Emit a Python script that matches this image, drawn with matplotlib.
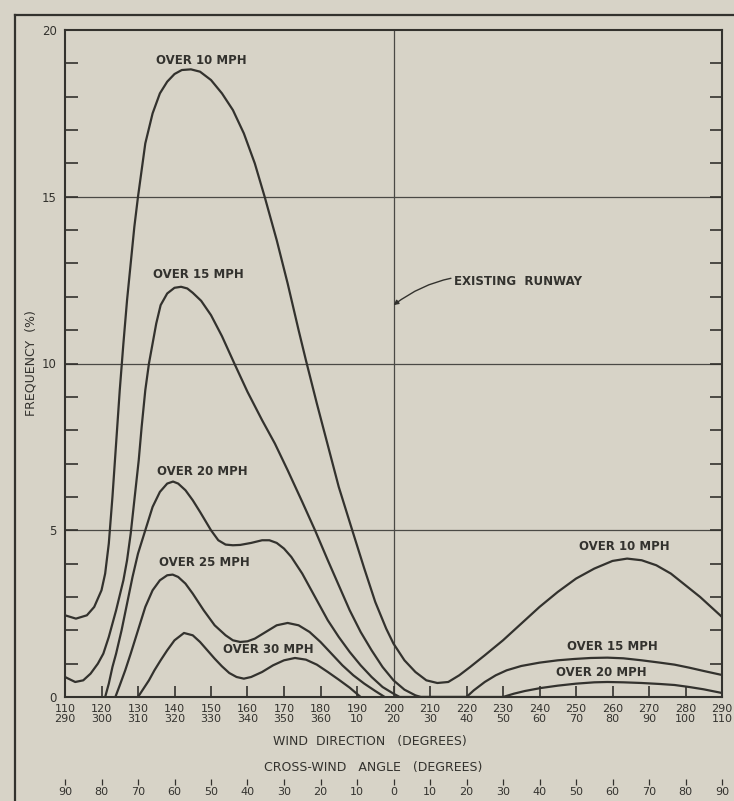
import matplotlib
matplotlib.use("Agg")
import matplotlib.pyplot as plt
from matplotlib.lines import Line2D

# ---------------- data ----------------
wind_dir_ticks = [110, 120, 130, 140, 150, 160, 170, 180, 190, 200,
                  210, 220, 230, 240, 250, 260, 270, 280, 290]
wind_dir_labels = ["110\n290", "120\n300", "130\n310", "140\n320", "150\n330",
                   "160\n340", "170\n350", "180\n360", "190\n10", "200\n20",
                   "210\n30", "220\n40", "230\n50", "240\n60", "250\n70",
                   "260\n80", "270\n90", "280\n100", "290\n110"]
crosswind_labels = ["90", "80", "70", "60", "50", "40", "30", "20", "10", "0",
                    "10", "20", "30", "40", "50", "60", "70", "80", "90"]
y_ticks = [0, 5, 10, 15, 20]
existing_runway = 200

over10_x = [110, 113, 116, 118, 120, 121, 122, 123, 124, 125, 126, 127, 128, 129, 130,
            132, 134, 136, 138, 140, 142, 144.5, 147, 150, 153, 156, 159, 162, 164.7,
            168, 171, 174, 176, 179, 182, 185, 188.7, 192, 195, 198, 200, 203, 206,
            209, 212, 215, 218, 221, 225, 230, 235, 240, 245, 250, 255, 260, 264,
            268, 272, 276, 280, 284, 287, 290]
over10_y = [2.45, 2.35, 2.45, 2.7, 3.2, 3.7, 4.6, 6.0, 7.6, 9.2, 10.6, 11.9, 13.0, 14.1, 15.0,
            16.6, 17.5, 18.1, 18.45, 18.68, 18.8, 18.82, 18.75, 18.5, 18.1, 17.6, 16.9, 16.0, 15.0,
            13.7, 12.4, 11.0, 10.1, 8.8, 7.55, 6.3, 5.0, 3.85, 2.85, 2.05, 1.6, 1.1, 0.75,
            0.5, 0.42, 0.45, 0.65, 0.9, 1.25, 1.7, 2.2, 2.7, 3.15, 3.55, 3.85, 4.08, 4.15,
            4.1, 3.95, 3.7, 3.35, 3.0, 2.7, 2.4]

over15_x = [110, 112.8, 115, 117, 119, 120.5, 122, 124, 126, 127, 128, 129, 130.2, 131,
            132, 133, 134, 135, 136.2, 138, 140, 141.8, 143.5, 145, 147.3, 150, 153,
            156.4, 160, 164, 167.5, 171, 175, 178.5, 182, 185, 188, 191, 194, 197, 200,
            203, 206, 207.5, 220, 222, 225, 228, 231, 235, 240, 245, 249.5, 254, 258.6,
            263, 268, 273, 277, 281, 285, 290]
over15_y = [0.6, 0.45, 0.5, 0.7, 1.0, 1.3, 1.8, 2.6, 3.5, 4.1, 4.9, 5.9, 7.1, 8.1,
            9.2, 10.0, 10.6, 11.2, 11.75, 12.1, 12.27, 12.3, 12.25, 12.12, 11.88, 11.45, 10.82,
            10.0, 9.15, 8.3, 7.6, 6.8, 5.85, 5.0, 4.1, 3.35, 2.6, 1.95, 1.4, 0.9, 0.5,
            0.22, 0.05, 0.0, 0.0, 0.2, 0.45, 0.65, 0.8, 0.93, 1.03, 1.1, 1.14, 1.17, 1.18,
            1.16, 1.1, 1.03, 0.97, 0.88, 0.78, 0.66]

over20_x = [121, 122, 123, 124, 125.5, 127, 128.5, 130, 132, 134, 136, 138, 139.6, 141,
            143, 145, 147, 150, 152, 154, 156, 158, 161, 164, 166, 168, 170, 172, 175,
            178.5, 182, 185, 188, 191, 194, 197, 200, 201.7, 230, 233, 236, 240.4, 245,
            250, 255, 258.6, 263, 268, 273, 277, 281, 285, 290]
over20_y = [0.0, 0.4, 0.9, 1.3, 2.0, 2.8, 3.6, 4.3, 5.0, 5.7, 6.15, 6.4, 6.46, 6.4,
            6.2, 5.9, 5.55, 5.0, 4.7, 4.57, 4.55, 4.56, 4.62, 4.7, 4.7, 4.62, 4.45, 4.2, 3.7,
            3.0, 2.3, 1.8, 1.35, 0.95, 0.6, 0.3, 0.1, 0.0, 0.0, 0.1, 0.18, 0.27, 0.34,
            0.4, 0.44, 0.45, 0.44, 0.42, 0.39, 0.36, 0.3, 0.23, 0.12]

over25_x = [123.8, 125, 126.5, 128, 130, 132, 134, 136, 138, 139.5, 141, 143, 145, 148,
            151, 154, 156, 158, 160, 162, 165, 168, 171, 174, 177, 180, 183, 186, 189,
            192, 195, 197.6]
over25_y = [0.0, 0.35, 0.8, 1.3, 2.0, 2.7, 3.2, 3.5, 3.65, 3.67, 3.6, 3.4, 3.1, 2.6,
            2.15, 1.85, 1.7, 1.65, 1.67, 1.75, 1.95, 2.15, 2.22, 2.15, 1.95, 1.65, 1.3, 0.95, 0.65,
            0.4, 0.18, 0.0]

over30_x = [130, 131.5, 133, 134.5, 136.2, 138, 140, 142.6, 145, 147, 149, 151, 153, 155,
            157, 159, 161, 164, 167, 170, 173, 176, 179, 182, 185, 188, 191]
over30_y = [0.0, 0.25, 0.5, 0.8, 1.1, 1.4, 1.7, 1.92, 1.85, 1.65, 1.4, 1.15, 0.92, 0.72,
            0.6, 0.55, 0.6, 0.75, 0.95, 1.1, 1.17, 1.12, 0.97, 0.75, 0.52, 0.28, 0.0]

curve_labels = ["OVER 10 MPH", "OVER 15 MPH", "OVER 20 MPH", "OVER 25 MPH", "OVER 30 MPH",
                "OVER 10 MPH", "OVER 15 MPH", "OVER 20 MPH"]
curve_label_x = [147.3, 146.5, 147.6, 148.3, 165.8, 263.3, 260.0, 257.0]
curve_label_y = [19.1, 12.67, 6.76, 4.02, 1.41, 4.5, 1.5, 0.72]

# ---------------- styling ----------------
BG = "#d7d3c7"
INK = "#33322e"
W, H = 734, 801

plt.rcParams["font.family"] = ["DejaVu Sans"]
fig = plt.figure(figsize=(W / 100, H / 100), dpi=100, facecolor=BG)
ax = fig.add_axes([65 / W, 1 - 697 / H, (722 - 65) / W, (697 - 30) / H])
ax.set_facecolor(BG)

# outer drawing border (left and top)
fig.add_artist(Line2D([15 / W, 15 / W], [0, 1 - 15 / H], transform=fig.transFigure,
                      color=INK, lw=1.6))
fig.add_artist(Line2D([15 / W, 1], [1 - 15 / H, 1 - 15 / H], transform=fig.transFigure,
                      color=INK, lw=1.6))

ax.set_xlim(110, 290)
ax.set_ylim(0, 20)

# grid lines
for yv in y_ticks[1:-1]:
    ax.axhline(yv, color="#4a4945", lw=0.9, zorder=1)
ax.axvline(existing_runway, color="#4a4945", lw=0.9, zorder=1)

# curves
for xs, ys in [(over10_x, over10_y), (over15_x, over15_y), (over20_x, over20_y),
               (over25_x, over25_y), (over30_x, over30_y)]:
    ax.plot(xs, ys, color=INK, lw=1.6, solid_joinstyle="round", zorder=3)

for t, xl, yl in zip(curve_labels, curve_label_x, curve_label_y):
    ax.text(xl, yl, t, ha="center", va="center", fontsize=8.5, color=INK,
            fontweight="bold", zorder=4)

# existing runway annotation
ax.annotate("EXISTING  RUNWAY", xy=(existing_runway, 11.75), xytext=(216.5, 12.45),
            ha="left", va="center", fontsize=8.5, color=INK, fontweight="bold",
            arrowprops=dict(arrowstyle="-|>", color=INK, lw=1.0, shrinkA=0, shrinkB=0,
                            mutation_scale=7, connectionstyle="arc3,rad=0.25"))

# spines
for s in ax.spines.values():
    s.set_color(INK)
    s.set_linewidth(1.5)

# y ticks
ax.set_yticks(y_ticks)
ax.set_yticklabels([str(v) for v in y_ticks])
ax.set_yticks([v for v in range(1, 20) if v % 5 != 0], minor=True)
ax.tick_params(axis="y", which="both", direction="in", length=9, width=1.2,
               colors=INK, right=True, left=True, labelsize=8.5, pad=6)
ax.set_ylabel("FREQUENCY  (%)", fontsize=9, color=INK, labelpad=3)

# x ticks (wind direction)
ax.set_xticks(wind_dir_ticks)
ax.set_xticklabels(wind_dir_labels, linespacing=1.0)
ax.tick_params(axis="x", which="both", direction="in", length=8, width=1.2,
               colors=INK, labelsize=8, pad=5)
ax.xaxis.set_tick_params(top=False)

fig.text(370 / W, 1 - 741 / H, "WIND  DIRECTION   (DEGREES)", ha="center", va="center",
         fontsize=9, color=INK)
fig.text(373 / W, 1 - 768 / H, "CROSS-WIND   ANGLE   (DEGREES)", ha="center", va="center",
         fontsize=9, color=INK)

# cross-wind angle scale
ax2 = ax.twiny()
ax2.set_xlim(ax.get_xlim())
ax2.xaxis.set_ticks_position("bottom")
ax2.xaxis.set_label_position("bottom")
ax2.spines["bottom"].set_position(("outward", 59))
for s in ax2.spines.values():
    s.set_visible(False)
ax2.set_xticks(wind_dir_ticks)
ax2.set_xticklabels(crosswind_labels)
ax2.tick_params(axis="x", direction="out", length=4, width=0.9, colors=INK,
                labelsize=8, pad=2)

fig.savefig("out.png", dpi=100, facecolor=BG)
